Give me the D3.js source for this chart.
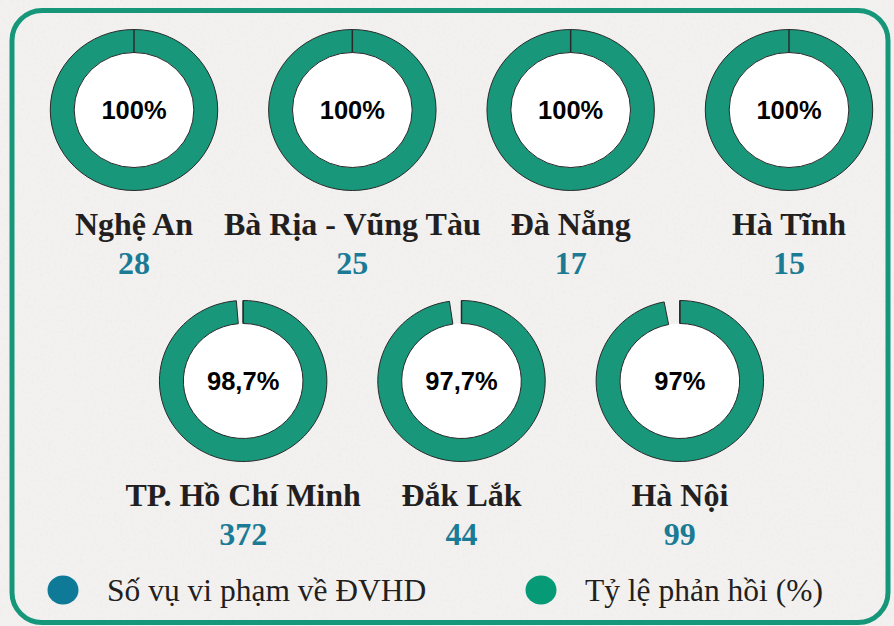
<!DOCTYPE html>
<html>
<head>
<meta charset="utf-8">
<script src="https://cdn.jsdelivr.net/npm/d3@7"></script>
<style>
  html, body { margin: 0; padding: 0; background: #f0efee; }
  svg { display: block; }
</style>
</head>
<body>
<svg id="chart" width="894" height="626"></svg>
<script>
// ---- data ----
const provinces = ["Nghệ An", "Bà Rịa - Vũng Tàu", "Đà Nẵng", "Hà Tĩnh", "TP. Hồ Chí Minh", "Đắk Lắk", "Hà Nội"];
const violationCounts = [28, 25, 17, 15, 372, 44, 99];
const responseRates = [100, 100, 100, 100, 98.7, 97.7, 97];
const legendLabels = ["Số vụ vi phạm về ĐVHD", "Tỷ lệ phản hồi (%)"];

// ---- setup ----
const W = 894, H = 626;
const svg = d3.select("#chart");
const vi = d3.formatLocale({ decimal: ",", thousands: ".", grouping: [3], currency: ["", "₫"] });
const fmtRate = vi.format(".1~f");

const colors = {
  ring: "#19977b",
  count: "#1b7b95",
  legendCount: "#0e7a98",
  legendRate: "#079a76",
  label: "#231f20",
  border: "#16977a"
};

// paper-like background
const defs = svg.append("defs");
const f = defs.append("filter").attr("id", "paper").attr("x", 0).attr("y", 0).attr("width", "100%").attr("height", "100%");
f.append("feTurbulence").attr("type", "fractalNoise").attr("baseFrequency", 0.35).attr("numOctaves", 3).attr("seed", 4).attr("result", "n");
f.append("feColorMatrix").attr("type", "matrix")
  .attr("values", "0 0 0 0 0.55  0 0 0 0 0.55  0 0 0 0 0.55  0 0 0 -1.6 0.85");
svg.append("rect").attr("width", W).attr("height", H).attr("fill", "#f2f1f0");
svg.append("rect").attr("width", W).attr("height", H).attr("filter", "url(#paper)").attr("opacity", 0.12);

// border
svg.append("rect")
  .attr("x", 12).attr("y", 10.5).attr("width", 876).attr("height", 612)
  .attr("rx", 30).attr("ry", 30)
  .attr("fill", "none").attr("stroke", colors.border).attr("stroke-width", 5);

// layout scales
const perRow = 4;
const xPos = d3.scaleLinear().domain([0, perRow - 1]).range([134, 789]);
const rowY = d3.scaleLinear().domain([0, 1]).range([110, 381]);
const angle = d3.scaleLinear().domain([0, 100]).range([0, 2 * Math.PI]);

const rOuter = 80.5, rInner = 57.5, xStretch = 1.04;
const arc = d3.arc().innerRadius(rInner).outerRadius(rOuter);

const items = provinces.map((name, i) => {
  const row = i < perRow ? 0 : 1;
  const col = row === 0 ? i : (i - perRow) + 0.5;
  return { name, count: violationCounts[i], rate: responseRates[i], cx: xPos(col), cy: rowY(row) };
});

const g = svg.selectAll("g.item").data(items).join("g")
  .attr("class", "item")
  .attr("transform", d => `translate(${d.cx},${d.cy})`);

const ring = g.append("g").attr("transform", `scale(${xStretch},1)`);
ring.append("circle").attr("r", rInner).attr("fill", "#ffffff");
ring.append("path")
  .attr("d", d => arc({ startAngle: 0, endAngle: angle(d.rate) }))
  .attr("fill", colors.ring)
  .attr("stroke", "#2a2a2a").attr("stroke-width", 1)
  .attr("vector-effect", "non-scaling-stroke");
// slice boundary at the start angle (visible as a seam on full rings)
ring.append("line")
  .attr("x1", 0).attr("x2", 0)
  .attr("y1", -rInner).attr("y2", -rOuter)
  .attr("stroke", "#2a2a2a").attr("stroke-width", 1.5)
  .attr("vector-effect", "non-scaling-stroke");

g.append("text")
  .attr("text-anchor", "middle")
  .attr("y", 9)
  .attr("font-family", "'Liberation Sans', Arial, sans-serif")
  .attr("font-weight", "bold")
  .attr("font-size", 25.5)
  .attr("fill", "#000")
  .text(d => fmtRate(d.rate) + "%");

g.append("text")
  .attr("text-anchor", "middle")
  .attr("y", 124.5)
  .attr("font-family", "'Liberation Serif', 'Times New Roman', serif")
  .attr("font-weight", "bold")
  .attr("font-size", 32)
  .attr("fill", colors.label)
  .text(d => d.name);

g.append("text")
  .attr("text-anchor", "middle")
  .attr("y", 164)
  .attr("font-family", "'Liberation Serif', 'Times New Roman', serif")
  .attr("font-weight", "bold")
  .attr("font-size", 32)
  .attr("fill", colors.count)
  .text(d => vi.format(",d")(d.count));

// legend
const legendColors = [colors.legendCount, colors.legendRate];
const legendX = [63, 541];
const lg = svg.selectAll("g.legend").data(legendLabels).join("g")
  .attr("class", "legend")
  .attr("transform", (d, i) => `translate(${legendX[i]},590)`);
lg.append("ellipse").attr("rx", 15.5).attr("ry", 14.5).attr("fill", (d, i) => legendColors[i]);
lg.append("text")
  .attr("x", 44).attr("y", 11)
  .attr("font-family", "'Liberation Serif', 'Times New Roman', serif")
  .attr("font-size", 31.5)
  .attr("fill", colors.label)
  .text(d => d);
</script>
</body>
</html>
